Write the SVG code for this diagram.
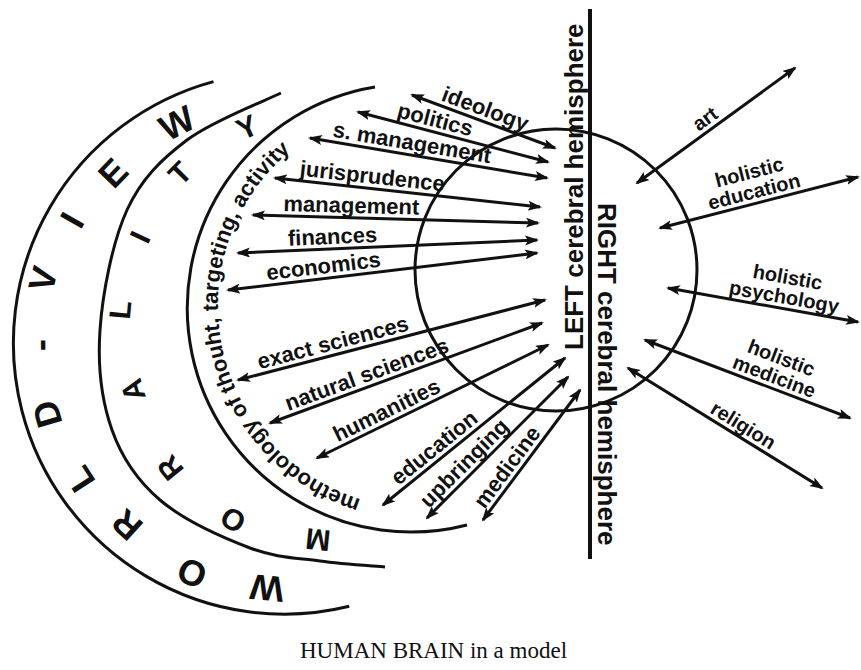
<svg xmlns="http://www.w3.org/2000/svg" width="861" height="670" viewBox="0 0 861 670">
<style>
.ln{fill:none;stroke:#111;stroke-width:3}
.ar{fill:none;stroke:#111;stroke-width:3;marker-start:url(#ah);marker-end:url(#ah)}
.lb{font-family:"Liberation Sans",Arial,sans-serif;font-weight:bold;font-size:22px;fill:#111;text-anchor:middle}
.rl{font-family:"Liberation Sans",Arial,sans-serif;font-weight:bold;font-size:20px;fill:#111;text-anchor:middle}
.big{font-family:"Liberation Sans",Arial,sans-serif;font-weight:bold;font-size:36px;fill:#111;text-anchor:middle;dominant-baseline:central}
.mid{font-family:"Liberation Sans",Arial,sans-serif;font-weight:bold;font-size:30px;fill:#111;text-anchor:middle;dominant-baseline:central}
.vt{font-family:"Liberation Sans",Arial,sans-serif;font-weight:bold;font-size:26px;fill:#111}
.arc{font-family:"Liberation Sans",Arial,sans-serif;font-weight:bold;font-size:22px;fill:#111}
.ttl{font-family:"Liberation Serif","Times New Roman",serif;font-size:23px;fill:#111}
</style>
<defs>
<marker id="ah" markerUnits="userSpaceOnUse" markerWidth="14" markerHeight="10" refX="12" refY="5" orient="auto-start-reverse" viewBox="0 0 14 10">
<path d="M0,0 L14,5 L0,10 L3,5 z" fill="#111"/>
</marker>
<path id="tp" d="M360.9,499.2 A202,202 0 0 1 304.1,140.5"/>
</defs>
<rect width="861" height="670" fill="#fff"/>

<g id="worldview">
<path class="ln" d="M213.5,81.6 A271,271 0 0 0 349.2,606.3"/>
<text class="big" transform="translate(267,588) rotate(-174.6)">W</text>
<text class="big" transform="translate(192,573) rotate(-156.9)">O</text>
<text class="big" transform="translate(127,525) rotate(-138.2)">R</text>
<text class="big" transform="translate(80,479) rotate(-122.9)">L</text>
<text class="big" transform="translate(47,414) rotate(-106.3)">D</text>
<text class="big" transform="translate(40,345) rotate(-90.5)">-</text>
<text class="big" transform="translate(43,279) rotate(-75.5)">V</text>
<text class="big" transform="translate(72,220) rotate(-60.6)">I</text>
<text class="big" transform="translate(113,173) rotate(-46.2)">E</text>
<text class="big" transform="translate(177,123) rotate(-27.2)">W</text>
</g>

<g id="morality">
<path class="ln" d="M281,93 C265.3,100.8 212.7,120.5 187,140 C161.3,159.5 141.5,178.3 127,210 C112.5,241.7 102.5,293.3 100,330 C97.5,366.7 102,401.7 112,430 C122,458.3 137,480.3 160,500 C183,519.7 223.3,537.8 250,548 C276.7,558.2 297.5,557.8 320,561 C342.5,564.2 374.2,566 385,567"/>
<text class="mid" transform="translate(318,540) rotate(-174)">M</text>
<text class="mid" transform="translate(233,520) rotate(-150.6)">O</text>
<text class="mid" transform="translate(170,468) rotate(-129.1)">R</text>
<text class="mid" transform="translate(133,390) rotate(-106.2)">A</text>
<text class="mid" transform="translate(120,310) rotate(-84.8)">L</text>
<text class="mid" transform="translate(140,237) rotate(-65.1)">I</text>
<text class="mid" transform="translate(180,173) rotate(-45.5)">T</text>
<text class="mid" transform="translate(247,127) rotate(-24.6)">Y</text>
</g>

<g id="methodology">
<path class="ln" d="M375,87 A224,224 0 1 0 467,525"/>
<text class="arc"><textPath href="#tp">methodology of thouht, targeting, activity</textPath></text>
</g>

<g id="brain">
<circle class="ln" cx="556" cy="270" r="141"/>
<line x1="590" y1="9" x2="590" y2="559" stroke="#111" stroke-width="4"/>
<text class="vt" transform="translate(583,350) rotate(-90)">LEFT cerebral hemisphere</text>
<text class="vt" transform="translate(598,203) rotate(90)">RIGHT cerebral hemisphere</text>
</g>

<g id="connectors">
<line class="ar" x1="412" y1="95" x2="555" y2="148"/>
<line class="ar" x1="358" y1="112" x2="548" y2="162"/>
<line class="ar" x1="310" y1="138" x2="547" y2="178"/>
<line class="ar" x1="275" y1="178" x2="540" y2="207"/>
<line class="ar" x1="253" y1="215" x2="538" y2="223"/>
<line class="ar" x1="238" y1="253" x2="537" y2="240"/>
<line class="ar" x1="228" y1="290" x2="537" y2="253"/>
<line class="ar" x1="238" y1="380" x2="545" y2="300"/>
<line class="ar" x1="270" y1="423" x2="542" y2="323"/>
<line class="ar" x1="317" y1="458" x2="548" y2="345"/>
<line class="ar" x1="383" y1="505" x2="565" y2="358"/>
<line class="ar" x1="427" y1="518" x2="568" y2="377"/>
<line class="ar" x1="483" y1="520" x2="580" y2="390"/>
<line class="ar" x1="637" y1="183" x2="795" y2="68"/>
<line class="ar" x1="660" y1="228" x2="858" y2="177"/>
<line class="ar" x1="668" y1="288" x2="858" y2="322"/>
<line class="ar" x1="645" y1="340" x2="850" y2="418"/>
<line class="ar" x1="628" y1="368" x2="822" y2="488"/>
</g>

<g id="left-labels">
<text class="lb" transform="translate(481,120.6) rotate(20.3)" y="-5">ideology</text>
<text class="lb" transform="translate(432,131.5) rotate(14.7)" y="-5">politics</text>
<text class="lb" transform="translate(410,154.9) rotate(9.6)" y="-5">s. management</text>
<text class="lb" transform="translate(371,188.5) rotate(6.2)" y="-5">jurisprudence</text>
<text class="lb" transform="translate(351,217.8) rotate(1.6)" y="-5">management</text>
<text class="lb" transform="translate(333,248.9) rotate(-2.5)" y="-5">finances</text>
<text class="lb" transform="translate(325,278.4) rotate(-6.8)" y="-5">economics</text>
<text class="lb" transform="translate(336,354.5) rotate(-14.6)" y="-5">exact sciences</text>
<text class="lb" transform="translate(371,385.9) rotate(-20.2)" y="-5">natural sciences</text>
<text class="lb" transform="translate(392,421.3) rotate(-26.1)" y="-5">humanities</text>
<text class="lb" transform="translate(442,457.3) rotate(-38.9)" y="-5">education</text>
<text class="lb" transform="translate(473,472) rotate(-45)" y="-5">upbringing</text>
<text class="lb" transform="translate(517,474.4) rotate(-53.3)" y="-5">medicine</text>
</g>

<g id="right-labels">
<text class="rl" transform="translate(712,128.4) rotate(-36)" y="-5">art</text>
<text class="rl" transform="translate(757,203) rotate(-14.4)"><tspan x="0" y="-25">holistic</tspan><tspan x="0" y="-5">education</tspan></text>
<text class="rl" transform="translate(782,308.4) rotate(10.1)"><tspan x="0" y="-25">holistic</tspan><tspan x="0" y="-5">psychology</tspan></text>
<text class="rl" transform="translate(770,387.6) rotate(20.8)"><tspan x="0" y="-25">holistic</tspan><tspan x="0" y="-5">medicine</tspan></text>
<text class="rl" transform="translate(737,435.4) rotate(31.7)" y="-5">religion</text>
</g>

<g id="title">
<text class="ttl" x="300" y="658">HUMAN BRAIN in a model</text>
</g>
</svg>
